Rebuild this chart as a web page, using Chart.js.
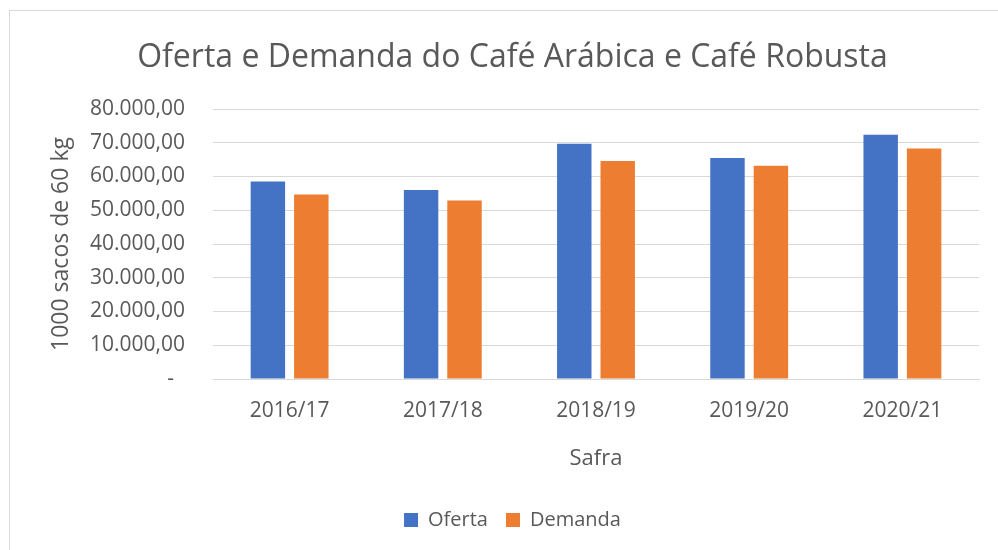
<!DOCTYPE html>
<html>
<head>
<meta charset="utf-8">
<script src="https://cdn.jsdelivr.net/npm/chart.js@4"></script>
<style>
  html, body { margin: 0; padding: 0; background: #ffffff; }
  #wrap { position: relative; width: 998px; height: 550px; }
</style>
</head>
<body>
<div id="wrap"><canvas id="c" width="998" height="550"></canvas></div>
<script>
const categories = ['2016/17', '2017/18', '2018/19', '2019/20', '2020/21'];
const oferta = [58500, 56000, 69700, 65500, 72400];
const demanda = [54700, 52900, 64600, 63200, 68300];
const seriesNames = ['Oferta', 'Demanda'];
const chartTitle = 'Oferta e Demanda do Café Arábica e Café Robusta';
const yTitle = '1000 sacos de 60 kg';
const xTitle = 'Safra';

const FONT = "'Open Sans', 'DejaVu Sans', sans-serif";
const GREY = '#595959';

function fmtBR(v) {
  if (v === 0) return '-  ';
  const s = Math.round(v).toString().replace(/\B(?=(\d{3})+(?!\d))/g, '.');
  return s + ',00';
}

const framePlugin = {
  id: 'frame',
  beforeDraw(chart) {
    const ctx = chart.ctx;
    ctx.save();
    ctx.fillStyle = '#ffffff';
    ctx.fillRect(0, 0, chart.width, chart.height);
    ctx.strokeStyle = '#d9d9d9';
    ctx.lineWidth = 1;
    ctx.strokeRect(9.5, 10.5, 1200, 1200);
    ctx.restore();
  }
};

new Chart(document.getElementById('c'), {
  type: 'bar',
  data: {
    labels: categories,
    datasets: [
      { label: seriesNames[0], data: oferta, backgroundColor: '#4472C4', borderWidth: 0,
        categoryPercentage: 0.567, barPercentage: 0.793 },
      { label: seriesNames[1], data: demanda, backgroundColor: '#ED7D31', borderWidth: 0,
        categoryPercentage: 0.567, barPercentage: 0.793 }
    ]
  },
  options: {
    responsive: false,
    animation: false,
    devicePixelRatio: 1,
    layout: { padding: { left: 46, right: 19, top: 0, bottom: 10 } },
    plugins: {
      title: {
        display: true,
        text: chartTitle,
        color: GREY,
        font: { family: FONT, size: 32, weight: 'normal', lineHeight: 1.2 },
        padding: { top: 39, bottom: 31.6 }
      },
      legend: {
        display: true,
        position: 'bottom',
        labels: {
          color: GREY,
          font: { family: FONT, size: 20 },
          boxWidth: 14,
          boxHeight: 14,
          padding: 18
        }
      },
      tooltip: { enabled: false }
    },
    scales: {
      x: {
        grid: { display: false, drawTicks: false },
        border: { display: true, color: '#d9d9d9', width: 1 },
        ticks: { color: GREY, font: { family: FONT, size: 21 }, padding: 19, maxRotation: 0 },
        title: {
          display: true, text: xTitle, color: GREY,
          font: { family: FONT, size: 22, lineHeight: 1.2 },
          padding: { top: 0, bottom: 19.8 }
        },
        afterFit(scale) { scale.height = 113; }
      },
      y: {
        min: 0, max: 80000,
        grid: { color: '#d9d9d9', lineWidth: 1, drawTicks: false },
        border: { display: false },
        ticks: { stepSize: 10000, color: GREY, font: { family: FONT, size: 21 }, padding: 28,
                 callback: (v) => fmtBR(v) },
        title: {
          display: true, text: yTitle, color: GREY,
          font: { family: FONT, size: 23, lineHeight: 1.2 },
          padding: { top: 1.2, bottom: 0 }
        },
        afterFit(scale) { scale.width = 167; }
      }
    }
  },
  plugins: [framePlugin]
});
</script>
</body>
</html>
